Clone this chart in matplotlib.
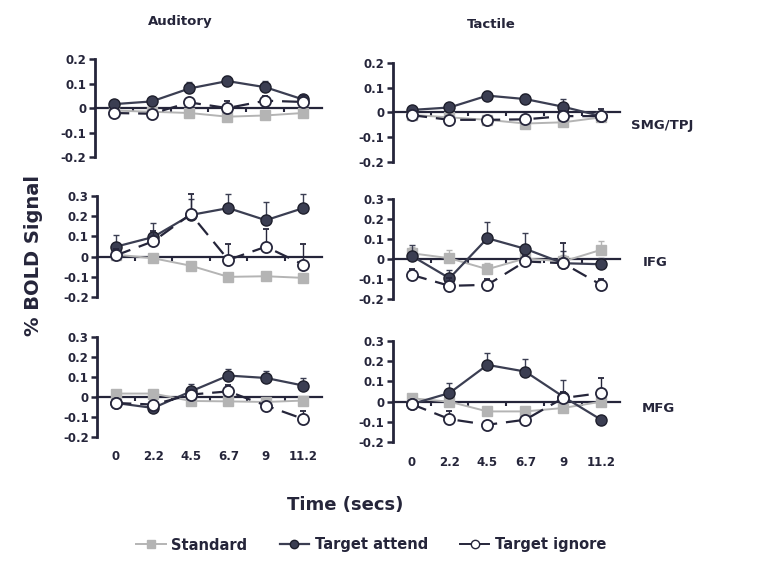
import numpy as np
import matplotlib
matplotlib.use("Agg")
import matplotlib.pyplot as plt

plt.rcParams['font.family'] = ['DejaVu Sans']
plt.rcParams['font.weight'] = 'bold'
plt.rcParams['axes.unicode_minus'] = False

times = ["0", "2.2", "4.5", "6.7", "9", "11.2"]
modalities = ["Auditory", "Tactile"]
regions = ["SMG/TPJ", "IFG", "MFG"]

# mean % BOLD change per region / modality
standard = {
    ("SMG/TPJ", "Auditory"): [-0.01, -0.015, -0.02, -0.035, -0.03, -0.02],
    ("SMG/TPJ", "Tactile"): [-0.01, -0.02, -0.03, -0.045, -0.04, -0.02],
    ("IFG", "Auditory"): [0.01, -0.008, -0.045, -0.10, -0.097, -0.105],
    ("IFG", "Tactile"): [0.028, 0.003, -0.052, 0.002, -0.013, 0.045],
    ("MFG", "Auditory"): [0.017, 0.017, -0.02, -0.022, -0.025, -0.018],
    ("MFG", "Tactile"): [0.017, 0.0, -0.048, -0.048, -0.031, 0.0],
}
attend = {
    ("SMG/TPJ", "Auditory"): [0.016, 0.027, 0.08, 0.11, 0.085, 0.035],
    ("SMG/TPJ", "Tactile"): [0.01, 0.02, 0.068, 0.054, 0.023, -0.015],
    ("IFG", "Auditory"): [0.049, 0.097, 0.206, 0.24, 0.18, 0.24],
    ("IFG", "Tactile"): [0.015, -0.097, 0.103, 0.05, -0.022, -0.027],
    ("MFG", "Auditory"): [-0.03, -0.055, 0.028, 0.107, 0.095, 0.057],
    ("MFG", "Tactile"): [-0.012, 0.043, 0.182, 0.149, 0.025, -0.089],
}
ignore = {
    ("SMG/TPJ", "Auditory"): [-0.02, -0.023, 0.023, 0.0, 0.03, 0.025],
    ("SMG/TPJ", "Tactile"): [-0.011, -0.03, -0.03, -0.028, -0.015, -0.015],
    ("IFG", "Auditory"): [0.006, 0.076, 0.21, -0.016, 0.049, -0.04],
    ("IFG", "Tactile"): [-0.08, -0.135, -0.13, -0.013, -0.022, -0.13],
    ("MFG", "Auditory"): [-0.03, -0.038, 0.012, 0.028, -0.043, -0.11],
    ("MFG", "Tactile"): [-0.012, -0.086, -0.114, -0.089, 0.018, 0.043],
}
# SEM (upper half only)
standard_err = {
    ("SMG/TPJ", "Auditory"): [0.01, 0.01, 0.01, 0.01, 0.01, 0.01],
    ("SMG/TPJ", "Tactile"): [0.01, 0.01, 0.01, 0.02, 0.02, 0.01],
    ("IFG", "Auditory"): [0.02, 0.02, 0.02, 0.02, 0.02, 0.02],
    ("IFG", "Tactile"): [0.03, 0.04, 0.03, 0.03, 0.03, 0.045],
    ("MFG", "Auditory"): [0.02, 0.02, 0.02, 0.02, 0.02, 0.02],
    ("MFG", "Tactile"): [0.02, 0.02, 0.02, 0.02, 0.02, 0.02],
}
attend_err = {
    ("SMG/TPJ", "Auditory"): [0.01, 0.015, 0.025, 0.02, 0.025, 0.02],
    ("SMG/TPJ", "Tactile"): [0.01, 0.02, 0.02, 0.02, 0.03, 0.02],
    ("IFG", "Auditory"): [0.06, 0.07, 0.08, 0.07, 0.09, 0.07],
    ("IFG", "Tactile"): [0.055, 0.04, 0.08, 0.08, 0.06, 0.03],
    ("MFG", "Auditory"): [0.02, 0.02, 0.035, 0.035, 0.035, 0.04],
    ("MFG", "Tactile"): [0.02, 0.05, 0.06, 0.06, 0.08, 0.02],
}
ignore_err = {
    ("SMG/TPJ", "Auditory"): [0.01, 0.01, 0.02, 0.03, 0.02, 0.03],
    ("SMG/TPJ", "Tactile"): [0.01, 0.01, 0.01, 0.01, 0.02, 0.03],
    ("IFG", "Auditory"): [0.03, 0.05, 0.1, 0.08, 0.09, 0.1],
    ("IFG", "Tactile"): [0.03, 0.04, 0.03, 0.03, 0.1, 0.03],
    ("MFG", "Auditory"): [0.02, 0.02, 0.02, 0.03, 0.02, 0.04],
    ("MFG", "Tactile"): [0.02, 0.04, 0.02, 0.02, 0.03, 0.075],
}

ylims = {"SMG/TPJ": (-0.2, 0.2), "IFG": (-0.2, 0.3), "MFG": (-0.2, 0.3)}

ink = "#25253a"
dark = "#3b3e52"
grey = "#b4b4b4"

# axes rectangles [left, bottom, width, height]
boxes = {
    ("SMG/TPJ", "Auditory"): [0.125, 0.728, 0.300, 0.170],
    ("SMG/TPJ", "Tactile"): [0.518, 0.720, 0.300, 0.171],
    ("IFG", "Auditory"): [0.128, 0.486, 0.297, 0.175],
    ("IFG", "Tactile"): [0.518, 0.483, 0.300, 0.173],
    ("MFG", "Auditory"): [0.128, 0.244, 0.297, 0.173],
    ("MFG", "Tactile"): [0.518, 0.235, 0.300, 0.175],
}

fig = plt.figure(figsize=(7.58, 5.78), dpi=100)
x = np.arange(len(times))

for region in regions:
    for mod in modalities:
        key = (region, mod)
        ax = fig.add_axes(boxes[key])
        lo, hi = ylims[region]
        ax.set_xlim(-0.5, 5.5)
        ax.set_ylim(lo, hi)
        for s in ["top", "right"]:
            ax.spines[s].set_visible(False)
        ax.spines["left"].set_linewidth(2.0)
        ax.spines["left"].set_color(ink)
        ax.spines["left"].set_bounds(lo, hi)
        ax.spines["bottom"].set_position(("data", 0))
        ax.spines["bottom"].set_linewidth(1.6)
        ax.spines["bottom"].set_color(ink)
        ax.set_xticks(np.arange(0.5, 5.0, 1.0))
        ax.set_xticklabels([])
        ax.tick_params(axis="x", direction="out", length=3, width=1.5, color=ink)
        yt = np.round(np.arange(lo, hi + 0.001, 0.1), 2)
        ax.set_yticks(yt)
        ax.set_yticklabels(["0" if abs(v) < 1e-9 else "%g" % v for v in yt])
        ax.tick_params(axis="y", direction="out", length=4, width=1.8, color=ink,
                       labelsize=8.5, labelcolor=ink, pad=2)
        ax.patch.set_visible(False)

        ax.errorbar(x, standard[key], yerr=[np.zeros(6), standard_err[key]],
                    color=grey, lw=1.4, marker="s", ms=7, mfc=grey, mec=grey,
                    capsize=2.5, elinewidth=1, clip_on=False, zorder=3)
        ax.errorbar(x, attend[key], yerr=[np.zeros(6), attend_err[key]],
                    color=dark, lw=1.6, marker="o", ms=8, mfc=dark, mec="#1e1f2c",
                    capsize=2.5, elinewidth=1, clip_on=False, zorder=4)
        ig = ax.errorbar(x, ignore[key], yerr=[np.zeros(6), ignore_err[key]],
                         color=ink, lw=1.6, marker="o", ms=8, mfc="white", mec=ink,
                         mew=1.3, capsize=2.5, elinewidth=1, clip_on=False, zorder=5)
        ig.lines[0].set_dashes([7, 4])

        if region == "MFG":
            for xi, t in zip(x, times):
                ax.text(xi, lo - 0.1, t, ha="center", va="center", fontsize=8.5,
                        color=ink, fontweight="bold")

fig.text(180 / 758, 1 - 22 / 578, "Auditory", ha="center", va="center", fontsize=9.5, color=ink)
fig.text(491 / 758, 1 - 25 / 578, "Tactile", ha="center", va="center", fontsize=9.5, color=ink)
fig.text(0.873, 1 - 125 / 578, "SMG/TPJ", ha="center", va="center", fontsize=9.5, color=ink)
fig.text(0.864, 1 - 262 / 578, "IFG", ha="center", va="center", fontsize=9.5, color=ink)
fig.text(0.868, 1 - 408 / 578, "MFG", ha="center", va="center", fontsize=9.5, color=ink)
fig.text(0.044, 1 - 255 / 578, "% BOLD Signal", rotation=90, ha="center", va="center",
         fontsize=14, color=ink)
fig.text(0.455, 1 - 505 / 578, "Time (secs)", ha="center", va="center",
         fontsize=13, color=ink)

# legend along the bottom
leg_ax = fig.add_axes([0, 0, 1, 1])
leg_ax.set_axis_off()
h1, = leg_ax.plot([], [], color=grey, lw=1.4, marker="s", ms=6, mfc=grey, mec=grey)
h2, = leg_ax.plot([], [], color=dark, lw=1.6, marker="o", ms=6, mfc=dark, mec="#1e1f2c")
h3, = leg_ax.plot([], [], color=ink, lw=1.4, marker="o", ms=6, mfc="white", mec=ink)
fig.legend([h1, h2, h3], ["Standard", "Target attend", "Target ignore"],
           loc="center", bbox_to_anchor=(0.49, 1 - 545 / 578), ncol=3, frameon=False,
           fontsize=10.5, handlelength=2.0, handletextpad=0.4, columnspacing=2.2,
           labelcolor=ink)

fig.savefig("out.png", dpi=100)
